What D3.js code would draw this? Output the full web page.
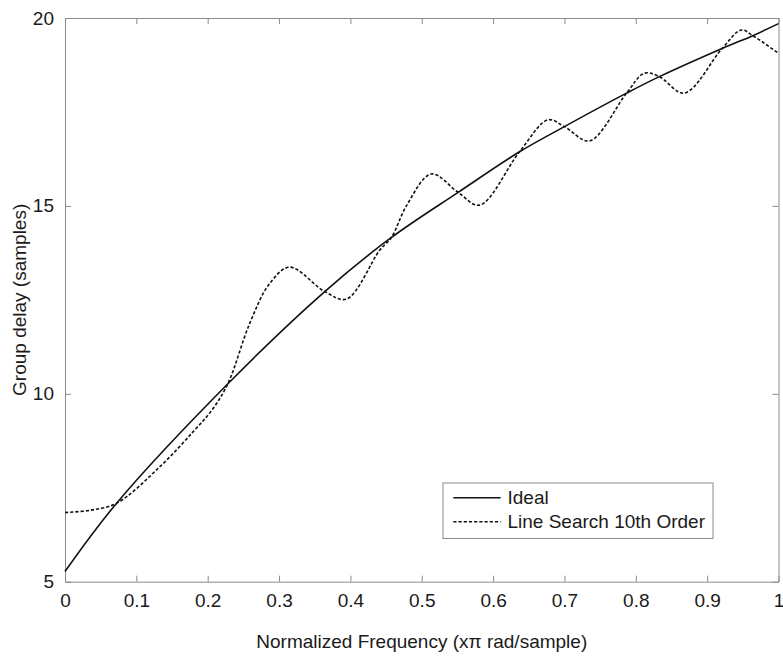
<!DOCTYPE html>
<html>
<head>
<meta charset="utf-8">
<script src="https://cdn.jsdelivr.net/npm/d3@7"></script>
<style>
  html, body { margin: 0; padding: 0; background: #fff; }
  svg { display: block; }
  text { font-family: "Liberation Sans", Arial, sans-serif; fill: #1a1a1a; }
</style>
</head>
<body>
<svg id="chart" width="783" height="658"></svg>
<script>
// Ideal group delay (normalized frequency, samples)
const idealX = [0, 0.0724, 0.229, 0.364, 0.4575, 0.551, 0.637, 0.700, 0.787, 0.833, 0.921, 0.964, 1.0];
const idealY = [5.27, 7.09, 10.28, 12.72, 14.16, 15.36, 16.44, 17.11, 18.0, 18.44, 19.19, 19.53, 19.85];

// Line-search 10th-order design response
const designX = [0, 0.035, 0.0724, 0.133, 0.18, 0.208, 0.229, 0.259, 0.287, 0.315, 0.364, 0.3945, 0.441, 0.4575, 0.4785, 0.5135,
                 0.551, 0.581, 0.637, 0.677, 0.700, 0.735, 0.787, 0.812, 0.833, 0.868, 0.921, 0.948, 0.964, 1.0];
const designY = [6.84, 6.9, 7.09, 8.06, 9.0, 9.62, 10.3, 11.88, 12.94, 13.37, 12.72, 12.52, 13.82, 14.16, 15.0, 15.85,
                 15.36, 15.02, 16.44, 17.29, 17.11, 16.73, 18.0, 18.53, 18.44, 18.0, 19.19, 19.68, 19.53, 19.06];

const xTicks = [0, 0.1, 0.2, 0.3, 0.4, 0.5, 0.6, 0.7, 0.8, 0.9, 1];
const yTicks = [5, 10, 15, 20];
const xTickLabels = ["0", "0.1", "0.2", "0.3", "0.4", "0.5", "0.6", "0.7", "0.8", "0.9", "1"];
const yTickLabels = ["5", "10", "15", "20"];

const seriesNames = ["Ideal", "Line Search 10th Order"];
const xLabel = "Normalized Frequency (x\u03C0 rad/sample)";
const yLabel = "Group delay (samples)";

const svg = d3.select("#chart");
const L = 65, R = 778.5, T = 18, B = 581.7;

const x = d3.scaleLinear().domain([0, 1]).range([L, R]);
const y = d3.scaleLinear().domain([5, 20]).range([B, T]);

const axisColor = "#8a8a8a";
const fontSize = 19;

// Axes with inward ticks on all four sides
const tickLen = 6;
const g = svg.append("g");

g.append("g").attr("transform", `translate(0,${B})`)
  .call(d3.axisBottom(x).tickValues(xTicks).tickSizeInner(-tickLen).tickSizeOuter(0)
        .tickPadding(12).tickFormat((d, i) => xTickLabels[i]))
  .call(a => a.select(".domain").attr("stroke", axisColor))
  .call(a => a.selectAll(".tick line").attr("stroke", axisColor))
  .call(a => a.selectAll(".tick text").attr("font-size", fontSize).attr("fill", "#1a1a1a")
        .attr("font-family", "Liberation Sans, Arial, sans-serif"));

g.append("g").attr("transform", `translate(0,${T})`)
  .call(d3.axisTop(x).tickValues(xTicks).tickSizeInner(-tickLen).tickSizeOuter(0).tickFormat(""))
  .call(a => a.select(".domain").attr("stroke", axisColor))
  .call(a => a.selectAll(".tick line").attr("stroke", axisColor));

g.append("g").attr("transform", `translate(${L},0)`)
  .call(d3.axisLeft(y).tickValues(yTicks).tickSizeInner(-tickLen).tickSizeOuter(0)
        .tickPadding(11).tickFormat((d, i) => yTickLabels[i]))
  .call(a => a.select(".domain").attr("stroke", axisColor))
  .call(a => a.selectAll(".tick line").attr("stroke", axisColor))
  .call(a => a.selectAll(".tick text").attr("font-size", fontSize).attr("fill", "#1a1a1a")
        .attr("font-family", "Liberation Sans, Arial, sans-serif"));

g.append("g").attr("transform", `translate(${R},0)`)
  .call(d3.axisRight(y).tickValues(yTicks).tickSizeInner(-tickLen).tickSizeOuter(0).tickFormat(""))
  .call(a => a.select(".domain").attr("stroke", axisColor))
  .call(a => a.selectAll(".tick line").attr("stroke", axisColor));

// Curves (smooth spline through the sampled points)
const line = d3.line().x(d => x(d[0])).y(d => y(d[1])).curve(d3.curveCatmullRom.alpha(0.5));

const ideal = idealX.map((v, i) => [v, idealY[i]]);
const design = designX.map((v, i) => [v, designY[i]]);

svg.append("path").datum(ideal).attr("d", line)
  .attr("fill", "none").attr("stroke", "#111").attr("stroke-width", 1.6);

svg.append("path").datum(design).attr("d", line)
  .attr("fill", "none").attr("stroke", "#111").attr("stroke-width", 1.6)
  .attr("stroke-dasharray", "3.2,2");

// Axis titles
svg.append("text").attr("x", (L + R) / 2).attr("y", 648)
  .attr("text-anchor", "middle").attr("font-size", fontSize).text(xLabel);

svg.append("text").attr("transform", `translate(26,${(T + B) / 2}) rotate(-90)`)
  .attr("text-anchor", "middle").attr("font-size", fontSize).text(yLabel);

// Legend
const lg = svg.append("g");
lg.append("rect").attr("x", 443).attr("y", 483).attr("width", 270).attr("height", 55.5)
  .attr("fill", "#fff").attr("stroke", axisColor).attr("stroke-width", 1);

const legendRows = [
  { name: seriesNames[0], dash: null, yy: 497.7 },
  { name: seriesNames[1], dash: "3.2,2", yy: 521.7 }
];
legendRows.forEach(r => {
  lg.append("line").attr("x1", 453.3).attr("x2", 500.7).attr("y1", r.yy).attr("y2", r.yy)
    .attr("stroke", "#111").attr("stroke-width", 1.6)
    .attr("stroke-dasharray", r.dash);
  lg.append("text").attr("x", 507.5).attr("y", r.yy).attr("dy", "0.35em")
    .attr("font-size", fontSize).text(r.name);
});
</script>
</body>
</html>
